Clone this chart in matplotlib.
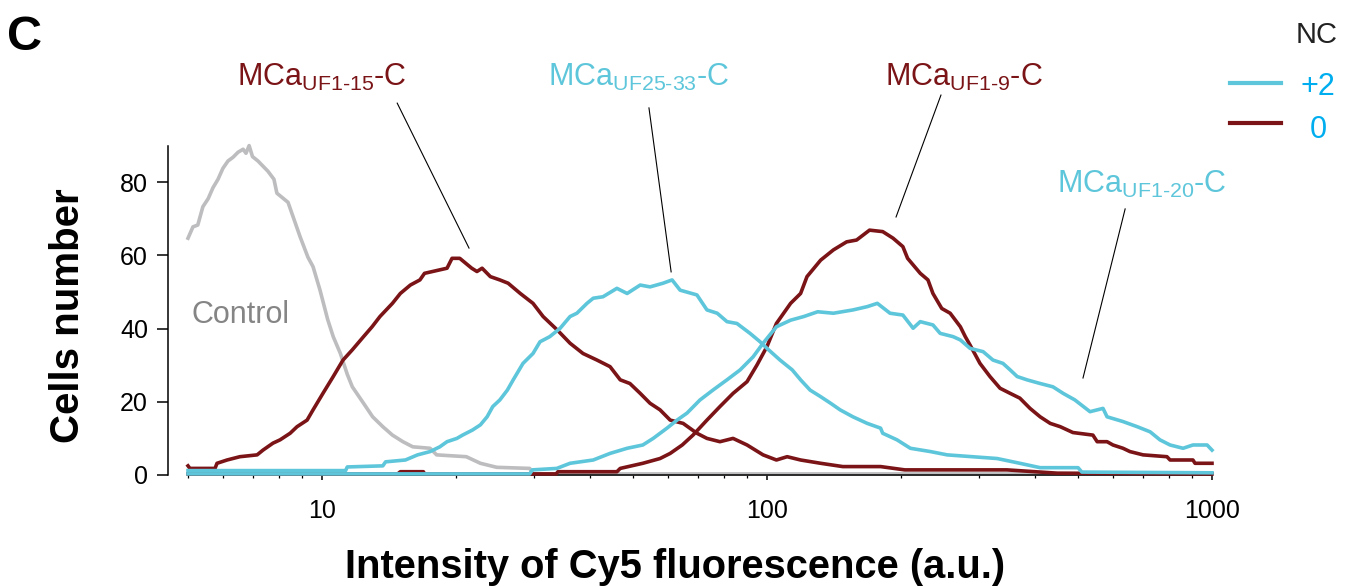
import matplotlib
matplotlib.use("Agg")
import matplotlib.pyplot as plt
from matplotlib.lines import Line2D
from matplotlib.ticker import LogLocator, NullFormatter, FixedLocator, FixedFormatter

plt.rcParams['font.family'] = ['Liberation Sans', 'DejaVu Sans']
plt.rcParams['mathtext.fontset'] = 'custom'
plt.rcParams['mathtext.rm'] = 'Liberation Sans'
plt.rcParams['mathtext.it'] = 'Liberation Sans:italic'
plt.rcParams['mathtext.bf'] = 'Liberation Sans:bold'

# ---------------- data ----------------
control_x = [5.00, 5.13, 5.26, 5.40, 5.55, 5.69, 5.84, 5.99, 6.15, 6.31, 6.48, 6.65, 6.75, 6.86,
             6.98, 7.18, 7.56, 7.80, 7.92, 8.39, 8.61, 8.93, 9.30, 9.55, 9.90, 10.3, 10.6, 11.0,
             11.4, 11.7, 12.4, 13.0, 13.7, 14.4, 15.2, 16.0, 17.5, 18.1, 21.1, 22.7, 24.7, 29.3,
             29.8, 1000]
control_y = [64.7, 67.8, 68.3, 73.3, 75.5, 78.5, 80.8, 83.8, 85.8, 86.8, 88.2, 89.0, 87.9, 90.0,
             87.0, 85.8, 83.0, 80.8, 77.0, 74.5, 70.6, 65.1, 59.5, 56.9, 50.5, 42.5, 37.8, 33.2,
             27.5, 24.1, 19.6, 15.9, 13.2, 10.9, 9.1, 7.7, 7.3, 5.5, 5.0, 3.2, 2.1, 1.8,
             0.3, 0.3]

uf115_x = [5.00, 5.05, 5.75, 5.81, 6.12, 6.54, 7.15, 7.37, 7.76, 8.05, 8.48, 8.79, 9.26, 9.55,
           10.05, 10.6, 11.15, 11.7, 12.4, 12.96, 13.5, 14.4, 15.0, 15.8, 16.6, 17.0, 19.1, 19.6,
           20.4, 21.7, 22.3, 22.9, 23.9, 25.1, 26.2, 27.9, 29.8, 31.4, 33.8, 36.1, 38.6, 41.5,
           44.4, 46.8, 49.2, 51.9, 54.6, 57.5, 60.6, 64.8, 69.6, 73.3, 78.4, 83.9, 90.2, 98.0,
           105, 111, 119, 132, 148, 180, 204, 346, 449, 1000]
uf115_y = [2.5, 1.8, 1.8, 3.2, 4.1, 5.0, 5.5, 6.8, 8.7, 9.6, 11.4, 13.2, 15.0, 17.8,
           22.3, 26.9, 31.4, 34.2, 37.8, 40.5, 43.3, 46.9, 49.6, 51.9, 53.3, 55.1, 56.5, 59.2,
           59.2, 56.5, 55.6, 56.5, 54.2, 53.3, 52.4, 49.6, 46.9, 43.3, 39.6, 36.0, 33.2, 31.4,
           29.6, 26.0, 25.0, 22.3, 19.6, 17.8, 15.0, 14.1, 11.4, 10.0, 9.1, 10.0, 8.2, 5.5,
           4.1, 5.0, 4.1, 3.2, 2.3, 2.3, 1.4, 1.4, 0.5, 0.3]

uf2533_x = [5.00, 11.3, 11.4, 13.7, 13.9, 15.4, 16.4, 17.5, 18.4, 19.1, 20.1, 20.7, 21.8, 22.7,
            23.5, 24.2, 25.1, 26.1, 26.9, 28.3, 29.8, 30.9, 32.5, 34.3, 36.1, 37.4, 39.4, 40.7,
            42.8, 46.0, 48.5, 51.9, 54.6, 58.4, 61.2, 63.8, 69.6, 73.3, 77.3, 81.3, 85.6, 91.6,
            96.5, 100, 107, 114, 119, 125, 132, 139, 146, 156, 168, 180, 182, 196, 210, 233,
            254, 329, 370, 411, 500, 510, 1000]
uf2533_y = [1.2, 1.2, 2.2, 2.5, 3.6, 4.1, 5.5, 6.4, 7.7, 9.1, 10.0, 10.9, 12.3, 13.7,
            15.9, 18.7, 20.5, 23.2, 26.0, 30.5, 33.2, 36.4, 37.8, 40.1, 43.3, 44.2, 46.9, 48.3,
            48.7, 51.0, 49.6, 51.9, 51.4, 52.4, 53.3, 50.5, 49.2, 45.1, 44.2, 41.9, 41.4, 38.7,
            36.4, 34.6, 31.4, 28.7, 26.0, 23.2, 21.4, 19.6, 17.8, 15.9, 14.1, 12.8, 11.4, 9.6, 7.3, 6.4,
            5.5, 4.5, 3.2, 2.0, 2.0, 0.8, 0.6]

uf19_x = [5.00, 14.8, 15.0, 16.9, 17.0, 33.6, 33.9, 46.0, 46.8, 52.6, 57.5, 60.6, 64.5, 68.2,
          73.3, 78.4, 83.9, 90.2, 95.0, 100, 105, 113, 119, 123, 132, 141, 151, 159, 170, 182,
          192, 202, 207, 221, 230, 236, 247, 258, 272, 279, 286, 301, 317, 334, 352, 370, 390,
          411, 433, 456, 487, 540, 552, 581, 599, 631, 654, 700, 792, 805, 906, 916, 1000]
uf19_y = [0.3, 0.3, 0.9, 0.9, 0.3, 0.3, 0.9, 0.9, 1.8, 3.2, 4.5, 5.9, 8.2, 10.9,
          15.0, 18.7, 22.3, 25.5, 30.1, 35.1, 41.4, 46.9, 49.6, 54.2, 58.7, 61.5, 63.7, 64.2, 66.9, 66.5,
          64.7, 62.4, 59.2, 55.1, 53.3, 49.6, 45.5, 44.2, 40.5, 37.8, 35.5, 30.5, 26.9, 23.7, 22.3, 21.0, 18.2,
          15.9, 14.1, 13.2, 11.6, 10.9, 9.1, 9.1, 8.2, 7.3, 6.4, 5.5, 5.0, 4.1, 4.1, 3.2, 3.2]

uf120_x = [5.00, 29.3, 29.7, 33.7, 36.1, 40.7, 44.4, 48.5, 52.6, 55.5, 59.6, 62.8, 66.1, 70.7,
           75.6, 81.3, 87.0, 93.1, 98.0, 105, 113, 121, 130, 141, 156, 168, 177, 189, 202, 213,
           221, 236, 245, 262, 272, 286, 306, 322, 339, 352, 365, 384, 411, 439, 463, 492, 532,
           569, 581, 631, 679, 726, 764, 805, 861, 906, 975, 1000]
uf120_y = [0.3, 0.3, 1.4, 1.8, 3.2, 4.1, 5.9, 7.3, 8.2, 10.0, 12.8, 15.0, 16.9, 20.5,
           23.2, 26.0, 28.7, 32.3, 36.0, 40.5, 42.3, 43.3, 44.6, 44.2, 45.1, 46.0, 46.9, 44.2, 43.7, 40.1,
           41.9, 41.0, 38.7, 37.8, 36.9, 34.6, 33.7, 31.4, 30.5, 28.7, 26.9, 26.0, 25.0, 24.1, 22.3, 20.5, 17.3,
           18.2, 15.9, 14.6, 13.2, 11.8, 9.6, 8.2, 7.3, 8.2, 8.2, 6.8]

x_tick_values = [10, 100, 1000]
x_tick_labels = ["10", "100", "1000"]
y_tick_values = [0, 20, 40, 60, 80]
y_tick_labels = ["0", "20", "40", "60", "80"]

legend_labels = ["+2", "0"]
legend_title = "NC"

# ---------------- style ----------------
CYAN = "#5ec6da"
DRED = "#7a1417"
GREY = "#bdbdbf"
CTRL_TXT = "#858585"
LEG_BLUE = "#00aeef"

W, H = 1354, 587
fig = plt.figure(figsize=(W / 100, H / 100), dpi=100)


def fx(px):
    return px / W


def fy(py):
    return 1 - py / H


ax = fig.add_axes([fx(188), fy(475), (1212 - 188) / W, (475 - 145.6) / H])
ax.set_xscale("log")
ax.set_xlim(5, 1000)
ax.set_ylim(0, 90)

lw = 2.6
ax.plot(control_x, control_y, color=GREY, lw=lw, clip_on=False, zorder=2)
ax.plot(uf115_x, uf115_y, color=DRED, lw=lw, clip_on=False, zorder=3)
ax.plot(uf19_x, uf19_y, color=DRED, lw=lw, clip_on=False, zorder=3)
ax.plot(uf2533_x, uf2533_y, color=CYAN, lw=lw, clip_on=False, zorder=4)
ax.plot(uf120_x, uf120_y, color=CYAN, lw=lw, clip_on=False, zorder=4)

# spines
for s in ["top", "right"]:
    ax.spines[s].set_visible(False)
ax.spines["left"].set_position(("outward", 14.4))
ax.spines["left"].set_linewidth(1.1)
ax.spines["bottom"].set_linewidth(1.1)

ax.xaxis.set_major_locator(FixedLocator(x_tick_values))
ax.xaxis.set_major_formatter(FixedFormatter(x_tick_labels))
ax.xaxis.set_minor_locator(LogLocator(base=10, subs=range(2, 10)))
ax.xaxis.set_minor_formatter(NullFormatter())
ax.yaxis.set_major_locator(FixedLocator(y_tick_values))
ax.yaxis.set_major_formatter(FixedFormatter(y_tick_labels))

ax.tick_params(axis="x", which="major", direction="out", length=3.6, width=1.1,
               labelsize=18, pad=14)
ax.tick_params(axis="x", which="minor", direction="out", length=2.2, width=0.9)
ax.tick_params(axis="y", which="major", direction="out", length=7.9, width=1.1,
               labelsize=18, pad=6.5)

# panel letter and axis titles
fig.text(fx(7), fy(50), "C", fontsize=35, fontweight="bold", ha="left", va="baseline")
fig.text(fx(68), fy(316), "Cells number", fontsize=29, fontweight="bold",
         rotation=90, ha="center", va="center")
fig.text(fx(675), fy(578), "Intensity of Cy5 fluorescence (a.u.)", fontsize=28.7,
         fontweight="bold", ha="center", va="baseline")

# curve labels with leader lines
lab = 22
ax.text(6.44, 106.3, r"MCa$_{\text{UF1-15}}$-C", color=DRED, fontsize=lab,
        ha="left", va="baseline", clip_on=False)
ax.plot([14.76, 21.4], [101.6, 62.0], color="black", lw=0.8, clip_on=False)

ax.text(32.2, 106.3, r"MCa$_{\text{UF25-33}}$-C", color=CYAN, fontsize=lab,
        ha="left", va="baseline", clip_on=False)
ax.plot([54.3, 60.9], [100.3, 55.5], color="black", lw=0.8, clip_on=False)

ax.text(184, 106.3, r"MCa$_{\text{UF1-9}}$-C", color=DRED, fontsize=lab,
        ha="left", va="baseline", clip_on=False)
ax.plot([246, 195], [103.8, 70.5], color="black", lw=0.8, clip_on=False)

ax.text(449, 77.0, r"MCa$_{\text{UF1-20}}$-C", color=CYAN, fontsize=lab,
        ha="left", va="baseline", clip_on=False)
ax.plot([638, 513], [72.7, 26.5], color="black", lw=0.8, clip_on=False)

ax.text(5.08, 41.5, "Control", color=CTRL_TXT, fontsize=lab, ha="left",
        va="baseline", clip_on=False)

# legend (drawn manually)
fig.text(fx(1296), fy(43), legend_title, fontsize=21, color="#222222",
         ha="left", va="baseline")
fig.add_artist(Line2D([fx(1230), fx(1281)], [fy(83), fy(83)], color=CYAN, lw=3.0))
fig.add_artist(Line2D([fx(1230), fx(1281)], [fy(123), fy(123)], color=DRED, lw=3.0))
fig.text(fx(1318), fy(95), legend_labels[0], fontsize=22, color=LEG_BLUE,
         ha="center", va="baseline")
fig.text(fx(1318), fy(138), legend_labels[1], fontsize=22, color=LEG_BLUE,
         ha="center", va="baseline")

fig.savefig("out.png", dpi=100)
